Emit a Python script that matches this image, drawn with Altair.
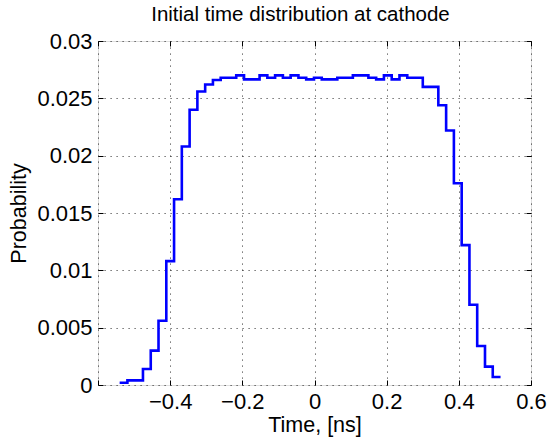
import altair as alt
import pandas as pd

# Bin positions (ns) of the stairs plot
time_ns = [
    -0.5400, -0.5185, -0.4969, -0.4754, -0.4538, -0.4323, -0.4107, -0.3892,
    -0.3677, -0.3461, -0.3246, -0.3030, -0.2815, -0.2600, -0.2384, -0.2169,
    -0.1953, -0.1738, -0.1522, -0.1307, -0.1092, -0.0876, -0.0661, -0.0445,
    -0.0230, -0.0014, 0.0201, 0.0416, 0.0632, 0.0847, 0.1063, 0.1278,
    0.1494, 0.1709, 0.1924, 0.2140, 0.2355, 0.2571, 0.2786, 0.3001,
    0.3217, 0.3432, 0.3648, 0.3863, 0.4079, 0.4294, 0.4509, 0.4725,
    0.4940, 0.5156,
]

# Probability of each bin
probability = [
    0.0002, 0.0004, 0.0004, 0.0014, 0.0030, 0.0056, 0.0108, 0.0162,
    0.0208, 0.0240, 0.0256, 0.0262, 0.0266, 0.0268, 0.0268, 0.0270,
    0.02665, 0.02665, 0.0270, 0.0268, 0.0270, 0.0268, 0.0270, 0.0268,
    0.02665, 0.0268, 0.02665, 0.02665, 0.0268, 0.0268, 0.0270, 0.0270,
    0.0268, 0.02665, 0.0270, 0.02665, 0.0270, 0.0268, 0.0268, 0.0260,
    0.0260, 0.0244, 0.0222, 0.0176, 0.0122, 0.0070, 0.0034, 0.0016,
    0.0007, 0.0007,
]

x_ticks = [-0.6, -0.4, -0.2, 0, 0.2, 0.4, 0.6]
y_ticks = [0, 0.005, 0.01, 0.015, 0.02, 0.025, 0.03]

df = pd.DataFrame({"t": time_ns, "p": probability})

FONT = "Liberation Sans"
LFS = 22
TFS = 21.5

xscale = alt.Scale(domain=[-0.6, 0.6], nice=False, zero=False)
yscale = alt.Scale(domain=[0, 0.03], nice=False, zero=False)

common_axis = dict(
    domain=False,
    tickColor="#000",
    tickSize=5,
    tickWidth=1,
    offset=-5,
    labelFont=FONT,
    labelFontSize=LFS,
    labelColor="#000",
    labelFlush=False,
    labelOverlap=False,
    labelBound=False,
    titleFont=FONT,
    titleFontSize=TFS,
    titleFontWeight="normal",
    titleColor="#000",
)

base = alt.Chart(df)

main = base.mark_line(
    interpolate="step-after", color="#0000ff", strokeWidth=2.6
).encode(
    x=alt.X(
        "t:Q",
        scale=xscale,
        axis=alt.Axis(
            orient="bottom",
            values=x_ticks,
            labelExpr="datum.value < -0.55 ? '' : format(datum.value, '~g')",
            title="Time, [ns]",
            grid=True,
            gridColor="#000",
            gridOpacity=0.7,
            gridDash=[1.2, 4.8],
            labelPadding=6,
            titlePadding=2,
            **common_axis,
        ),
    ),
    y=alt.Y(
        "p:Q",
        scale=yscale,
        axis=alt.Axis(
            orient="left",
            values=y_ticks,
            format="~g",
            title="Probability",
            grid=True,
            gridColor="#000",
            gridOpacity=0.7,
            gridDash=[1.2, 4.8],
            labelPadding=6,
            titlePadding=6,
            **common_axis,
        ),
    ),
)

frame = base.mark_line(opacity=0).encode(
    x=alt.X(
        "t:Q",
        scale=xscale,
        axis=alt.Axis(
            orient="top", values=x_ticks, labels=False, title=None, grid=False,
            **common_axis,
        ),
    ),
    y=alt.Y(
        "p:Q",
        scale=yscale,
        axis=alt.Axis(
            orient="right", values=y_ticks, labels=False, title=None, grid=False,
            **common_axis,
        ),
    ),
)

chart = (
    alt.layer(main, frame)
    .resolve_axis(x="independent", y="independent")
    .properties(
        width=433,
        height=344,
        title=alt.TitleParams(
            "Initial time distribution at cathode",
            font=FONT,
            fontSize=20.5,
            fontWeight="normal",
            color="#000",
            offset=5,
            dx=-14,
        ),
        padding={"left": 98, "top": 41, "right": 16, "bottom": 56},
        autosize=alt.AutoSizeParams(type="none"),
    )
    .configure_view(stroke="#000", strokeWidth=1)
    .configure(background="white")
)

chart.save("out.html", embed_options={"renderer": "svg", "actions": False})
